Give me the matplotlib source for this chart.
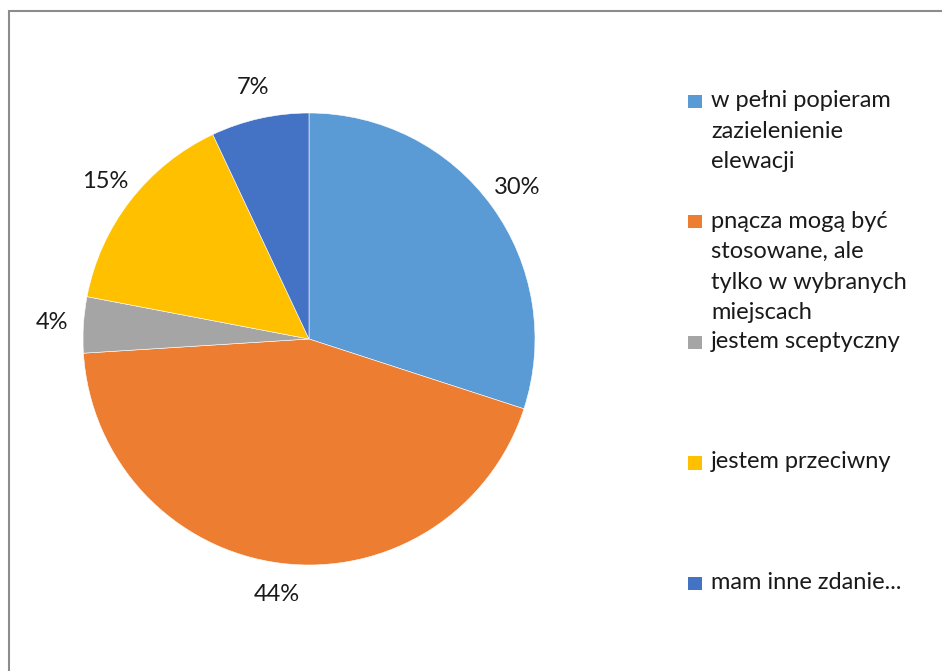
import matplotlib
matplotlib.use('Agg')
import matplotlib.pyplot as plt
import matplotlib.patches as pch

plt.rcParams['font.family'] = ['Lato', 'DejaVu Sans']

labels = ['w pełni popieram\nzazielenienie\nelewacji',
          'pnącza mogą być\nstosowane, ale\ntylko w wybranych\nmiejscach',
          'jestem sceptyczny',
          'jestem przeciwny',
          'mam inne zdanie...']
values = [30, 44, 4, 15, 7]
colors = ['#5B9BD5', '#ED7D31', '#A5A5A5', '#FFC000', '#4472C4']

W, H = 942, 671
fig = plt.figure(figsize=(W / 100, H / 100), dpi=100)

# outer chart border (right and bottom run off the image)
fig.patches.append(pch.Rectangle((8.5 / W, -0.05), 1.2, 1 - 11.5 / H + 0.05,
                                 transform=fig.transFigure, fill=False,
                                 edgecolor='#8c8c8c', linewidth=1.5))

# pie: centre (309, 339) px, radius 226 px
cx, cy, r = 309, 339, 226
ax = fig.add_axes([(cx - r) / W, (H - cy - r) / H, 2 * r / W, 2 * r / H])
wedges, texts, autotexts = ax.pie(values, colors=colors, startangle=90, counterclock=False,
                                  autopct='%1.0f%%', pctdistance=1.14,
                                  wedgeprops=dict(edgecolor='white', linewidth=0.4),
                                  textprops=dict(fontsize=17, color='#1a1a1a'))
ax.set_xlim(-1, 1)
ax.set_ylim(-1, 1)
ax.set_aspect('equal')
ax.axis('off')

# legend drawn by hand so the square sits on the first text line
first_y = 101
step = 120.5
for i, (lab, col) in enumerate(zip(labels, colors)):
    y = first_y + i * step
    fig.patches.append(pch.Rectangle((688 / W, (H - y - 7) / H), 13.5 / W, 13.5 / H,
                                     transform=fig.transFigure, facecolor=col,
                                     edgecolor='none'))
    fig.text(711 / W, (H - y + 11) / H, lab, fontsize=17, color='#1a1a1a',
             va='top', ha='left', linespacing=1.56)

fig.savefig('out.png', dpi=100, facecolor='white')
